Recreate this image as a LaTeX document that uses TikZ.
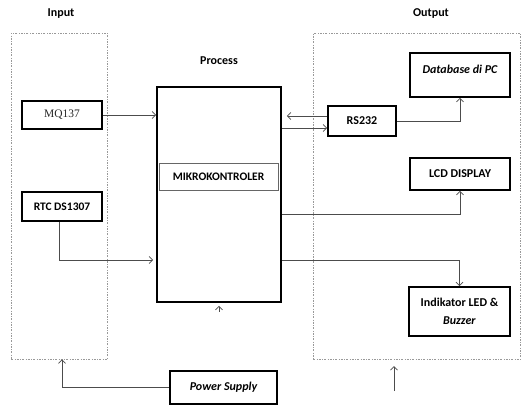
\documentclass[tikz,border=0pt]{standalone}
\usepackage{fontspec}
\setmainfont{Carlito}
\newfontfamily\serifx{Liberation Serif}
\usetikzlibrary{arrows.meta,calc}
\begin{document}
\begin{tikzpicture}[x=1pt,y=-1pt,
  blk/.style={draw=black,line width=1.6pt,inner sep=0pt,font=\bfseries\fontsize{12}{14}\selectfont,align=center},
  grp/.style={draw=gray!80,line width=0.6pt,dash pattern=on 2pt off 1.5pt on 0.5pt off 1.5pt,inner sep=0pt},
  conn/.style={draw=black!70,line width=0.8pt},
  arr/.style={conn,-{Straight Barb[length=3.5pt,width=7pt]}},
  ttl/.style={font=\bfseries\fontsize{12}{14}\selectfont}]
\useasboundingbox (0,0) rectangle (521,405);
% group boxes
\node[grp,minimum width=96pt,minimum height=326pt] (inbox) at (59,196) {};
\node[grp,minimum width=207pt,minimum height=326pt] (outbox) at (416.5,196) {};
% titles
\node[ttl] (tin) at (61,14) {Input};
\node[ttl] (tproc) at (219,61) {Process};
\node[ttl] (tout) at (431,14) {Output};
% blocks
\node[blk,minimum width=80pt,minimum height=28pt,font=\serifx\fontsize{11.5}{13}\selectfont,text=black!85] (mq) at (62,115) {MQ137};
\node[blk,minimum width=80pt,minimum height=29pt,font=\bfseries\fontsize{11.5}{13}\selectfont] (rtc) at (62,206.5) {RTC DS1307};
\node[blk,minimum width=124pt,minimum height=215pt] (proc) at (219,194.5) {};
\node[draw=black!60,line width=0.8pt,minimum width=119pt,minimum height=27pt,inner sep=0pt,font=\bfseries\fontsize{11.5}{13}\selectfont] (mk) at (218.5,176.5) {MIKROKONTROLER};
\node[blk,minimum width=68pt,minimum height=30pt] (rs) at (362,121) {RS232};
\node[blk,minimum width=100pt,minimum height=44pt] (db) at (460,75) {};
\node[font=\bfseries\itshape\fontsize{12}{14}\selectfont] (dbt) at (460,69) {Database di PC};
\node[blk,minimum width=100pt,minimum height=32pt] (lcd) at (460,174) {LCD DISPLAY};
\node[blk,minimum width=101pt,minimum height=49pt,font=\bfseries\fontsize{12}{18}\selectfont] (ind) at (459.5,311.5) {Indikator LED \&\\\textit{Buzzer}};
\node[blk,minimum width=107pt,minimum height=33pt,font=\bfseries\itshape\fontsize{12}{14}\selectfont] (ps) at (223.5,387.5) {Power Supply};
% elbow levels
\coordinate (lvRtc) at (0,260);
\coordinate (lvUp) at (0,116);
\coordinate (lvDn) at (0,128);
\coordinate (lvLcd) at (0,214);
\coordinate (lvInd) at (0,260);
\coordinate (fa1) at (394,391);
\coordinate (fa2) at (394,366);
% connectors
\draw[arr] (mq.east) -- (mq.east -| proc.west);
\draw[arr] ([xshift=-3pt]rtc.south) |- ([xshift=-3pt]proc.west |- lvRtc);
\draw[arr] (rs.west |- lvUp) -- ([xshift=5pt]proc.east |- lvUp);
\draw[arr] (proc.east |- lvDn) -- (rs.west |- lvDn);
\draw[arr] (rs.east) -| (db.south);
\draw[arr] (proc.east |- lvLcd) -| (lcd.south);
\draw[arr] (proc.east |- lvInd) -| (ind.north);
\draw[arr] (ps.west) -| ([xshift=3pt]inbox.south);
\draw[arr] ([yshift=-9pt]proc.south) -- ([yshift=-3pt]proc.south);
\draw[arr] (fa1) -- (fa2);
\end{tikzpicture}
\end{document}
